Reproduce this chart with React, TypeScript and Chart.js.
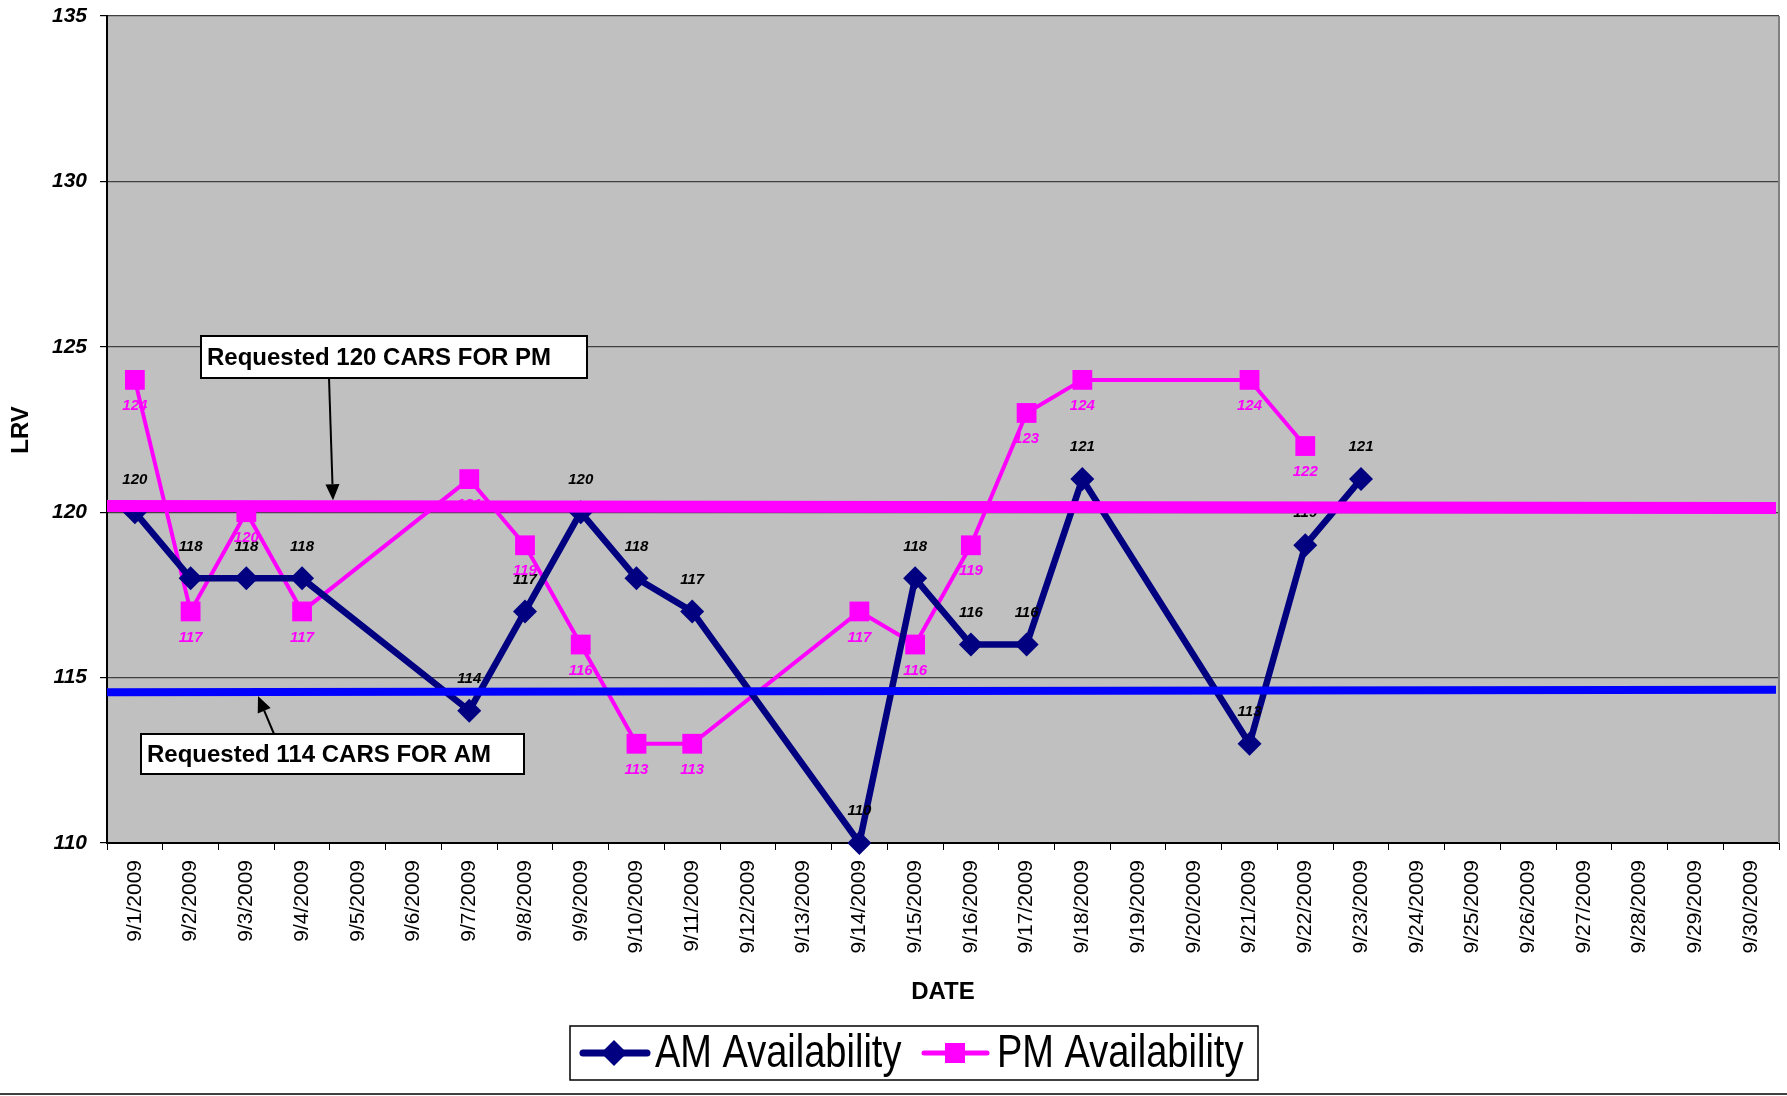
import React, { useEffect, useRef } from 'react';
import { Chart, registerables } from 'chart.js';

Chart.register(...registerables);

const dateLabels = [
  '9/1/2009', '9/2/2009', '9/3/2009', '9/4/2009', '9/5/2009', '9/6/2009', '9/7/2009', '9/8/2009',
  '9/9/2009', '9/10/2009', '9/11/2009', '9/12/2009', '9/13/2009', '9/14/2009', '9/15/2009',
  '9/16/2009', '9/17/2009', '9/18/2009', '9/19/2009', '9/20/2009', '9/21/2009', '9/22/2009',
  '9/23/2009', '9/24/2009', '9/25/2009', '9/26/2009', '9/27/2009', '9/28/2009', '9/29/2009', '9/30/2009',
];

const amValues = [
  120, 118, 118, 118, null, null, 114, 117, 120, 118, 117, null, null, 110, 118,
  116, 116, 121, null, null, 113, 119, 121, null, null, null, null, null, null, null,
];

const pmValues = [
  124, 117, 120, 117, null, null, 121, 119, 116, 113, 113, null, null, 117, 116,
  119, 123, 124, null, null, 124, 122, null, null, null, null, null, null, null, null,
];

// requested targets, value at left edge and right edge of the plot
const pmTarget = [120.19, 120.13];
const amTarget = [114.56, 114.63];

const yTicks = { min: 110, max: 135, step: 5 };

const FONT = "'Liberation Sans', Arial, Helvetica, sans-serif";
const NAVY = '#000080';
const MAGENTA = '#FF00FF';
const BLUE = '#0000FF';

function refAt(chart: any, ref: number[], x: number) {
  const a = chart.chartArea;
  const t = (x - a.left) / (a.right - a.left);
  return ref[0] + (ref[1] - ref[0]) * t;
}

function drawArrow(ctx: CanvasRenderingContext2D, x1: number, y1: number, x2: number, y2: number) {
  ctx.save();
  ctx.strokeStyle = '#000';
  ctx.fillStyle = '#000';
  ctx.lineWidth = 2;
  const ang = Math.atan2(y2 - y1, x2 - x1);
  const len = 16;
  const w = 7;
  const bx = x2 - Math.cos(ang) * len;
  const by = y2 - Math.sin(ang) * len;
  ctx.beginPath();
  ctx.moveTo(x1, y1);
  ctx.lineTo(bx, by);
  ctx.stroke();
  ctx.beginPath();
  ctx.moveTo(x2, y2);
  ctx.lineTo(bx + Math.sin(ang) * w, by - Math.cos(ang) * w);
  ctx.lineTo(bx - Math.sin(ang) * w, by + Math.cos(ang) * w);
  ctx.closePath();
  ctx.fill();
  ctx.restore();
}

function drawBox(ctx: CanvasRenderingContext2D, x: number, y: number, w: number, h: number, text: string) {
  ctx.save();
  ctx.fillStyle = '#fff';
  ctx.fillRect(x, y, w, h);
  ctx.strokeStyle = '#000';
  ctx.lineWidth = 2;
  ctx.strokeRect(x, y, w, h);
  ctx.fillStyle = '#000';
  ctx.font = `bold 24px ${FONT}`;
  ctx.textAlign = 'left';
  ctx.textBaseline = 'middle';
  ctx.fillText(text, x + 6, y + h / 2 + 1);
  ctx.restore();
}

const customPlugin = {
  id: 'customDraw',
  beforeDraw(chart: any) {
    const { ctx, chartArea: a } = chart;
    ctx.save();
    ctx.fillStyle = '#fff';
    ctx.fillRect(0, 0, chart.width, chart.height);
    ctx.fillStyle = '#C0C0C0';
    ctx.fillRect(a.left, a.top, a.right - a.left, a.bottom - a.top);
    ctx.restore();
  },
  afterDatasetsDraw(chart: any) {
    const { ctx, chartArea: a } = chart;
    const yScale = chart.scales.y;

    // data labels
    ctx.save();
    ctx.font = `italic bold 15px ${FONT}`;
    ctx.textAlign = 'center';
    ctx.textBaseline = 'middle';
    chart.data.datasets.forEach((ds: any, di: number) => {
      const meta = chart.getDatasetMeta(di);
      meta.data.forEach((pt: any, i: number) => {
        const v = ds.data[i];
        if (v === null || v === undefined) return;
        if (di === 0) {
          ctx.fillStyle = '#000';
          ctx.fillText(String(v), pt.x, pt.y - 32);
        } else {
          ctx.fillStyle = MAGENTA;
          ctx.fillText(String(v), pt.x, pt.y + 26);
        }
      });
    });
    ctx.restore();

    // requested lines
    ctx.save();
    ctx.lineCap = 'butt';
    ctx.strokeStyle = BLUE;
    ctx.lineWidth = 8;
    ctx.beginPath();
    ctx.moveTo(a.left, yScale.getPixelForValue(amTarget[0]));
    ctx.lineTo(a.right - 3, yScale.getPixelForValue(amTarget[1]));
    ctx.stroke();
    ctx.strokeStyle = MAGENTA;
    ctx.lineWidth = 12;
    ctx.beginPath();
    ctx.moveTo(a.left, yScale.getPixelForValue(pmTarget[0]));
    ctx.lineTo(a.right - 3, yScale.getPixelForValue(pmTarget[1]));
    ctx.stroke();
    ctx.restore();

    // annotations
    const pmTipX = 333;
    const pmTipY = yScale.getPixelForValue(refAt(chart, pmTarget, pmTipX)) - 6;
    drawArrow(ctx, 329, 378, pmTipX, pmTipY);
    drawBox(ctx, 201, 336, 386, 42, 'Requested 120 CARS FOR PM');

    const amTipX = 258;
    const amTipY = yScale.getPixelForValue(refAt(chart, amTarget, amTipX)) + 4;
    drawArrow(ctx, 274, 734, amTipX, amTipY);
    drawBox(ctx, 141, 734, 383, 40, 'Requested 114 CARS FOR AM');

    // right plot border
    ctx.save();
    ctx.strokeStyle = '#808080';
    ctx.lineWidth = 2;
    ctx.beginPath();
    ctx.moveTo(a.right, a.top);
    ctx.lineTo(a.right, a.bottom);
    ctx.stroke();
    ctx.restore();
  },
  afterDraw(chart: any) {
    const { ctx, chartArea: a } = chart;
    ctx.save();
    // axis titles
    ctx.fillStyle = '#000';
    ctx.font = `bold 24px ${FONT}`;
    ctx.textAlign = 'center';
    ctx.textBaseline = 'middle';
    ctx.fillText('DATE', (a.left + a.right) / 2, 992);
    ctx.save();
    ctx.translate(21, 430);
    ctx.rotate(-Math.PI / 2);
    ctx.fillText('LRV', 0, 0);
    ctx.restore();

    // legend
    const lx = 570, ly = 1026, lw = 688, lh = 54;
    const cy = ly + lh / 2;
    ctx.fillStyle = '#fff';
    ctx.fillRect(lx, ly, lw, lh);
    ctx.strokeStyle = '#000';
    ctx.lineWidth = 1.5;
    ctx.strokeRect(lx, ly, lw, lh);

    ctx.lineCap = 'round';
    ctx.strokeStyle = NAVY;
    ctx.lineWidth = 7;
    ctx.beginPath();
    ctx.moveTo(583, cy);
    ctx.lineTo(647, cy);
    ctx.stroke();
    ctx.fillStyle = NAVY;
    ctx.beginPath();
    ctx.moveTo(614, cy - 13);
    ctx.lineTo(627, cy);
    ctx.lineTo(614, cy + 13);
    ctx.lineTo(601, cy);
    ctx.closePath();
    ctx.fill();

    ctx.strokeStyle = MAGENTA;
    ctx.lineWidth = 5;
    ctx.beginPath();
    ctx.moveTo(924, cy);
    ctx.lineTo(987, cy);
    ctx.stroke();
    ctx.fillStyle = MAGENTA;
    ctx.fillRect(955 - 10, cy - 10, 20, 20);

    ctx.fillStyle = '#000';
    ctx.font = `38px ${FONT}`;
    ctx.textAlign = 'left';
    ctx.textBaseline = 'middle';
    ctx.save();
    ctx.translate(655, cy + 1);
    ctx.scale(1, 1.22);
    ctx.fillText('AM Availability', 0, 0);
    ctx.restore();
    ctx.save();
    ctx.translate(997, cy + 1);
    ctx.scale(1, 1.22);
    ctx.fillText('PM Availability', 0, 0);
    ctx.restore();

    // bottom frame line
    ctx.strokeStyle = '#404040';
    ctx.lineWidth = 2;
    ctx.beginPath();
    ctx.moveTo(0, 1094);
    ctx.lineTo(chart.width, 1094);
    ctx.stroke();
    ctx.restore();
  },
};

export default function App() {
  const ref = useRef<HTMLCanvasElement | null>(null);

  useEffect(() => {
    document.body.style.margin = '0';
    const canvas = ref.current;
    if (!canvas) return;
    const chart = new Chart(canvas, {
      type: 'line',
      data: {
        labels: dateLabels,
        datasets: [
          {
            label: 'AM Availability',
            data: amValues,
            borderColor: NAVY,
            backgroundColor: NAVY,
            borderWidth: 6.5,
            pointStyle: 'rectRot',
            pointRadius: 12,
            pointBorderWidth: 0,
            pointBackgroundColor: NAVY,
            pointHoverRadius: 12,
            tension: 0,
            spanGaps: true,
            clip: false as any,
          },
          {
            label: 'PM Availability',
            data: pmValues,
            borderColor: MAGENTA,
            backgroundColor: MAGENTA,
            borderWidth: 4,
            pointStyle: 'rect',
            pointRadius: 14,
            pointBorderWidth: 0,
            pointBackgroundColor: MAGENTA,
            pointHoverRadius: 14,
            tension: 0,
            spanGaps: true,
            clip: false as any,
          },
        ],
      },
      options: {
        responsive: false,
        animation: false,
        devicePixelRatio: 1,
        layout: { autoPadding: false, padding: { top: 16, right: 8, bottom: 73, left: 0 } },
        plugins: {
          legend: { display: false },
          tooltip: { enabled: false },
        },
        scales: {
          x: {
            type: 'category',
            offset: true,
            afterFit: (s: any) => {
              s.height = 180;
              s.paddingLeft = 0;
              s.paddingRight = 0;
            },
            grid: {
              offset: true,
              drawOnChartArea: false,
              drawTicks: true,
              tickLength: 7,
              tickColor: '#000',
              z: -1,
            },
            border: { color: '#000', width: 2 },
            ticks: {
              autoSkip: false,
              minRotation: 90,
              maxRotation: 90,
              padding: 10,
              color: '#000',
              font: { family: FONT, size: 21 },
            },
          },
          y: {
            min: yTicks.min,
            max: yTicks.max,
            afterFit: (s: any) => {
              s.width = 107;
              s.paddingTop = 0;
              s.paddingBottom = 0;
            },
            grid: {
              color: '#404040',
              lineWidth: 1.2,
              tickLength: 7,
              tickColor: '#000',
              z: -1,
            },
            border: { color: '#000', width: 2 },
            ticks: {
              stepSize: yTicks.step,
              padding: 13,
              color: '#000',
              font: { family: FONT, size: 21, style: 'italic', weight: 'bold' },
            },
          },
        },
      },
      plugins: [customPlugin],
    } as any);
    return () => chart.destroy();
  }, []);

  return (
    <div style={{ width: 1787, height: 1096 }}>
      <canvas ref={ref} width={1787} height={1096} style={{ display: 'block' }} />
    </div>
  );
}
